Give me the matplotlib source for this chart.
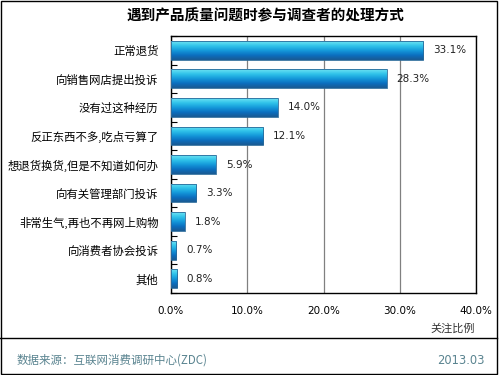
import matplotlib
matplotlib.use("Agg")
import matplotlib.pyplot as plt
import numpy as np
from matplotlib.colors import LinearSegmentedColormap
from matplotlib.lines import Line2D
from matplotlib.patches import Rectangle

plt.rcParams['font.family'] = ['Noto Sans CJK SC', 'DejaVu Sans']

title = "遇到产品质量问题时参与调查者的处理方式"
categories = ["正常退货", "向销售网店提出投诉", "没有过这种经历", "反正东西不多,吃点亏算了",
              "想退货换货,但是不知道如何办", "向有关管理部门投诉", "非常生气,再也不再网上购物",
              "向消费者协会投诉", "其他"]
values = [33.1, 28.3, 14.0, 12.1, 5.9, 3.3, 1.8, 0.7, 0.8]
xticks = [0, 10, 20, 30, 40]
xlabel = "关注比例"
source = "数据来源：互联网消费调研中心(ZDC)"
date = "2013.03"

fig = plt.figure(figsize=(5, 3.75), dpi=100)
W, H = 500, 375
ax = fig.add_axes([171 / W, 1 - 293 / H, 305 / W, 257 / H])

y = np.arange(len(categories))
bars = ax.barh(y, values, height=0.66, color='none', edgecolor='none', zorder=3)

# top of bar = light cyan, bottom = darker blue
cmap = LinearSegmentedColormap.from_list(
    "bar", ["#6ee2f2", "#30c4ea", "#1599da", "#0b6fc0", "#1a5a92"])
for b in bars:
    x0, y0 = b.get_x(), b.get_y()
    w, h = b.get_width(), b.get_height()
    # y axis is inverted: y0 is visually the top edge
    grad = np.linspace(0, 1, 64).reshape(-1, 1)
    im = ax.imshow(grad, cmap=cmap, aspect='auto', extent=(x0, x0 + w, y0 + h, y0),
                   origin='upper', zorder=3, interpolation='bicubic')
    im.set_clip_path(b)
    ax.add_patch(Rectangle((x0, y0), w, h, fill=False, edgecolor='#2a6a9a', lw=0.6, zorder=4))

for yi, v in zip(y, values):
    ax.annotate(f"{v:.1f}%", (v, yi), xytext=(7, 0), textcoords='offset points',
                va='center', ha='left', fontsize=7.5, family=['DejaVu Sans'], color='#222222')

ax.set_xlim(0, 40)
ax.set_ylim(len(categories) - 0.5, -0.5)
ax.set_xticks(xticks)
ax.set_xticklabels([f"{t:.1f}%" for t in xticks], fontsize=7.5, family=['DejaVu Sans'])
ax.tick_params(axis='x', length=0, pad=9)
ax.set_yticks(y)
ax.set_yticklabels(categories, fontsize=8.2)
ax.tick_params(axis='y', which='major', length=0, pad=9)
ax.set_yticks(np.arange(len(categories) + 1) - 0.5, minor=True)
ax.tick_params(axis='y', which='minor', length=4, direction='in', width=0.8)
ax.grid(axis='x', color='#808080', lw=0.9, zorder=1)
for s in ax.spines.values():
    s.set_color('black')
    s.set_linewidth(1.0)
ax.set_axisbelow(True)

fig.text(266 / W, 1 - 15 / H, title, fontsize=10.5, fontweight='bold', ha='center', va='center')
fig.text(475 / W, 1 - 329 / H, xlabel, fontsize=8, ha='right', va='center', color='#333333')
fig.text(17 / W, 1 - 360 / H, source, fontsize=8.3, ha='left', va='center', color='#5a8490')
fig.text(485 / W, 1 - 360 / H, date, fontsize=8.3, ha='right', va='center', color='#5a8490',
         family=['DejaVu Sans'])

fig.add_artist(Line2D([0, 497 / W], [1 - 338 / H] * 2, color='black', lw=1.0))
fig.add_artist(Rectangle((0.002, 0.003), 0.992, 0.994, fill=False, edgecolor='black', lw=1.0,
                         transform=fig.transFigure))

fig.savefig("out.png", dpi=100)
